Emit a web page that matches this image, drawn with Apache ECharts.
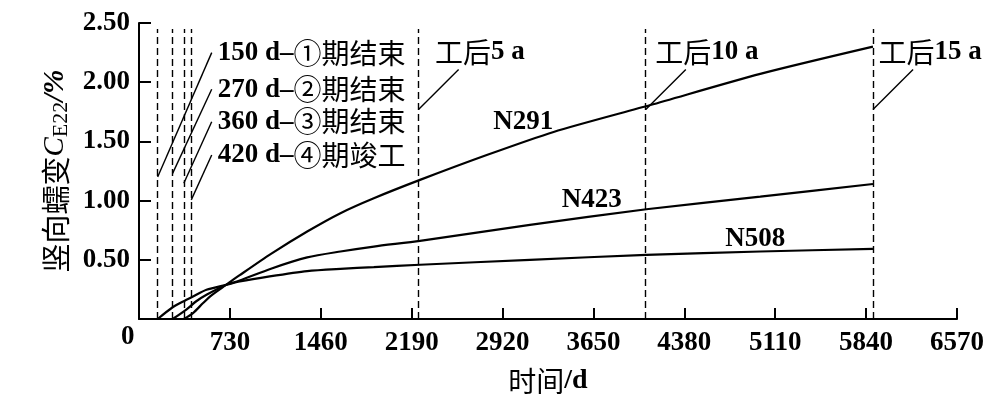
<!DOCTYPE html>
<html><head><meta charset="utf-8">
<script src="https://cdn.jsdelivr.net/npm/echarts@6/dist/echarts.min.js"></script>
<style>html,body{margin:0;padding:0;background:#fff}#c{width:1002px;height:394px}</style>
</head><body><div id="c"></div>
<script>
// ---- data ----
const xMin = 0, xMax = 6570, xStep = 730;
const yMin = 0, yMax = 2.5, yStep = 0.5;
const seriesNames = ['N291', 'N423', 'N508'];
const n291 = [[360,0],[434,0.05],[515,0.135],[582,0.2],[702,0.29],[809,0.37],[1060,0.55],[1351,0.739],[1618,0.894],[1886,1.02],[2257,1.175],[2793,1.385],[3330,1.58],[4108,1.807],[4990,2.07],[5895,2.30]];
const n423 = [[270,0],[380,0.08],[460,0.15],[542,0.205],[702,0.29],[809,0.325],[1060,0.425],[1351,0.52],[1618,0.57],[1886,0.612],[2257,0.66],[3140,0.795],[4075,0.927],[4990,1.034],[5895,1.14]];
const n508 = [[150,0],[265,0.095],[355,0.148],[434,0.19],[542,0.247],[702,0.289],[809,0.317],[1050,0.36],[1351,0.405],[1618,0.424],[1886,0.438],[2257,0.458],[3140,0.50],[4075,0.542],[4990,0.57],[5895,0.593]];
const stageDays = [150, 270, 360, 420];
const stageLabels = ['150 d–', '270 d–', '360 d–', '420 d–'];
const stageTexts = ['①期结束', '②期结束', '③期结束', '④期竣工'];
const afterDays = [2245, 4070, 5895];
const afterYears = ['5 a', '10 a', '15 a'];
const dashTop = 2.45;

// ---- styles ----
const SERIF = "'Liberation Serif','Times New Roman',serif";
const CJK = "'Noto Sans CJK SC',sans-serif";
const rich = {
  n: {fontFamily: SERIF, fontWeight: 'bold', fontSize: 27, color: '#000'},
  c: {fontFamily: CJK, fontWeight: 'normal', fontSize: 28, color: '#000'}
};

const dashStyle = {color: '#000', width: 1.4, type: [7, 4]};
const leadStyle = {color: '#000', width: 1.4, type: 'solid'};

const markLines = [];
stageDays.forEach(d => markLines.push([{coord: [d, 0], lineStyle: dashStyle}, {coord: [d, dashTop]}]));
afterDays.forEach(d => markLines.push([{coord: [d, 0], lineStyle: dashStyle}, {coord: [d, dashTop]}]));
// leader lines (annotation anchors)
const stageLeadFrom = [1.20, 1.23, 1.147, 1.006];
const stageLeadTo = [2.25, 1.94, 1.666, 1.385];
stageDays.forEach((d, i) => markLines.push([{coord: [d, stageLeadFrom[i]], lineStyle: leadStyle}, {coord: [584, stageLeadTo[i]]}]));
const afterLeadDx = 322;
afterDays.forEach((d, i) => markLines.push([{coord: [d, 1.77], lineStyle: leadStyle}, {coord: [d + afterLeadDx, 2.108]}]));

const markPoints = [];
const stageLabelY = [2.245, 1.938, 1.666, 1.385];
stageLabels.forEach((t, i) => markPoints.push({
  coord: [633, stageLabelY[i]],
  label: {formatter: '{n|' + t + '}{c|' + stageTexts[i] + '}', position: 'right', distance: 0, rich}
}));
const afterLabelX = [2377, 4146, 5939];
afterDays.forEach((d, i) => markPoints.push({
  coord: [afterLabelX[i], 2.256],
  label: {formatter: '{c|工后}{n|' + afterYears[i] + '}', position: 'right', distance: 0, rich}
}));
const curveLabelPos = [[3087, 1.666], [3637, 1.006], [4950, 0.675]];
seriesNames.forEach((s, i) => markPoints.push({
  coord: curveLabelPos[i],
  label: {formatter: '{n|' + s + '}', position: 'inside', rich}
}));

const lineSeries = (name, data) => ({
  name, type: 'line', data, showSymbol: false, smooth: 0.25,
  lineStyle: {color: '#000', width: 2.2}, itemStyle: {color: '#000'}, silent: true, z: 3
});

const chart = echarts.init(document.getElementById('c'), null, {renderer: 'canvas'});
chart.setOption({
  animation: false,
  backgroundColor: '#fff',
  grid: {left: 139, right: 45, top: 23, bottom: 75, containLabel: false, outerBoundsMode: 'none'},
  xAxis: {
    type: 'value', min: xMin, max: xMax, interval: xStep,
    name: '{c|时间}{n|/d}', nameLocation: 'middle', nameGap: 48,
    nameTextStyle: {rich: {n: {fontFamily: SERIF, fontWeight: 'bold', fontSize: 28, color: '#000'}, c: {fontFamily: CJK, fontSize: 28, color: '#000'}}},
    axisLine: {show: true, onZero: false, lineStyle: {color: '#000', width: 2}},
    axisTick: {show: true, inside: true, length: 11, lineStyle: {color: '#000', width: 2}},
    axisLabel: {color: '#000', fontFamily: SERIF, fontWeight: 'bold', fontSize: 27, margin: 11,
      formatter: v => v === 0 ? '' : String(v)},
    splitLine: {show: false}
  },
  yAxis: {
    type: 'value', min: yMin, max: yMax, interval: yStep,
    name: '{a|竖向蠕变}{i|C}{s|E22}{p|/%}', nameLocation: 'middle', nameGap: 61, nameRotate: 90,
    nameTextStyle: {rich: {
      a: {fontFamily: CJK, fontSize: 29, color: '#000'},
      i: {fontFamily: SERIF, fontStyle: 'italic', fontSize: 29, color: '#000'},
      s: {fontFamily: SERIF, fontSize: 22, color: '#000', padding: [10, 0, 0, 0]},
      p: {fontFamily: SERIF, fontStyle: 'italic', fontWeight: 'bold', fontSize: 29, color: '#000'}
    }},
    axisLine: {show: true, onZero: false, lineStyle: {color: '#000', width: 2}},
    axisTick: {show: true, inside: true, length: 12, lineStyle: {color: '#000', width: 2}},
    axisLabel: {color: '#000', fontFamily: SERIF, fontWeight: 'bold', fontSize: 27, margin: 9,
      formatter: v => v === 0 ? '' : v.toFixed(2)},
    splitLine: {show: false}
  },
  graphic: [{
    type: 'text', left: 121, top: 324,
    style: {text: '0', font: "bold 27px 'Liberation Serif'", fill: '#000'}
  }],
  series: [
    lineSeries(seriesNames[0], n291),
    lineSeries(seriesNames[1], n423),
    lineSeries(seriesNames[2], n508),
    {
      name: 'annot', type: 'line', data: [], silent: true,
      markLine: {silent: true, symbol: ['none', 'none'], label: {show: false}, animation: false, data: markLines},
      markPoint: {silent: true, symbol: 'circle', symbolSize: 0, animation: false, data: markPoints,
        itemStyle: {color: 'transparent'}}
    }
  ]
});
</script></body></html>
